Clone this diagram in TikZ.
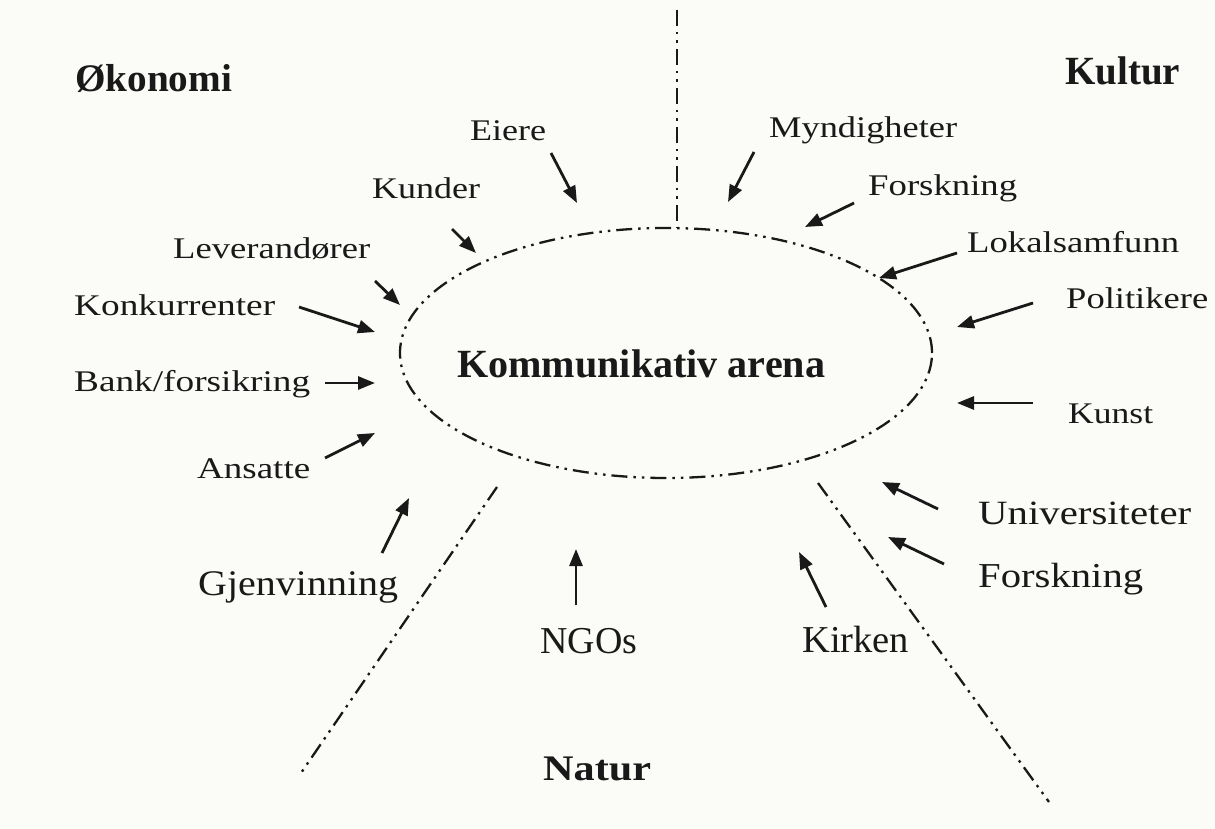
\documentclass[tikz,border=0pt]{standalone}
\usepackage{fontspec}
\setmainfont{Liberation Serif}
\usetikzlibrary{arrows.meta,shapes.geometric}
\definecolor{paper}{RGB}{251,251,247}
\definecolor{ink}{RGB}{25,25,25}
\newcommand\lbl[3]{\resizebox{#2pt}{\height}{\fontsize{#1pt}{#1pt}\selectfont #3}}
\newcommand\blbl[3]{\resizebox{#2pt}{\height}{\fontsize{#1pt}{#1pt}\selectfont\bfseries #3}}
\tikzset{
  lab/.style={anchor=base west, inner sep=0pt, text=ink},
  arr/.style={draw=ink, line width=2.8pt, -{Triangle[length=17pt,width=13pt]}},
  ddot/.style={draw=ink, line width=2.3pt, dash pattern=on 16pt off 6pt on 2.5pt off 6pt on 2.5pt off 6pt},
}
\begin{document}
\begin{tikzpicture}[x=1pt,y=-1pt]
\fill[paper] (0,0) rectangle (1215,829);
\useasboundingbox (0,0) rectangle (1215,829);

% arena
\node[ellipse, ddot, minimum width=532pt, minimum height=250pt, inner sep=0pt] (arena) at (666,353) {};
\node[lab] (arenatxt) at (457,377) {\blbl{40}{368}{Kommunikativ arena}};

% sector lines
\coordinate (vtop) at (677,10);
\coordinate (vbot) at (677,228);
\coordinate (ltop) at (497,487);
\coordinate (lbot) at (301,773);
\coordinate (rtop) at (818,483);
\coordinate (rbot) at (1049,802);
\draw[ddot] (vtop) -- (vbot);
\draw[ddot] (ltop) -- (lbot);
\draw[ddot] (rtop) -- (rbot);

% sector titles
\node[lab] (okonomi) at (75,92) {\blbl{39}{157}{Økonomi}};
\node[lab] (kultur) at (1065,85) {\blbl{40}{115}{Kultur}};
\node[lab] (natur) at (543,780) {\blbl{36}{108}{Natur}};

% labels
\node[lab] (eiere) at (470,141) {\lbl{30}{76}{Eiere}};
\node[lab] (kunder) at (372,198) {\lbl{30}{108}{Kunder}};
\node[lab] (lev) at (173,258) {\lbl{30}{197}{Leverandører}};
\node[lab] (konk) at (74,315) {\lbl{30}{201}{Konkurrenter}};
\node[lab] (bank) at (74,391) {\lbl{30}{236}{Bank/forsikring}};
\node[lab] (ansatte) at (197,478) {\lbl{30}{113}{Ansatte}};
\node[lab] (gjen) at (198,595) {\lbl{36}{200}{Gjenvinning}};
\node[lab] (ngos) at (540,653) {\lbl{38}{97}{NGOs}};
\node[lab] (kirken) at (802,652) {\lbl{38}{107}{Kirken}};
\node[lab] (mynd) at (769,138) {\lbl{30}{188}{Myndigheter}};
\node[lab] (forsk1) at (868,195) {\lbl{30}{149}{Forskning}};
\node[lab] (lokal) at (967,252) {\lbl{30}{212}{Lokalsamfunn}};
\node[lab] (polit) at (1066,308) {\lbl{30}{142}{Politikere}};
\node[lab] (kunst) at (1068,423) {\lbl{30}{85}{Kunst}};
\node[lab] (univ) at (978,524) {\lbl{34}{213}{Universiteter}};
\node[lab] (forsk2) at (978,587) {\lbl{35}{165}{Forskning}};

% arrow ends
\coordinate (a1s) at (551,153);  \coordinate (a1t) at (577,203);
\coordinate (a2s) at (452,229);  \coordinate (a2t) at (476,253);
\coordinate (a3s) at (375,281);  \coordinate (a3t) at (400,305);
\coordinate (a4s) at (299,307);  \coordinate (a4t) at (375,332);
\coordinate (a5s) at (325,383);  \coordinate (a5t) at (375,383);
\coordinate (a6s) at (325,458);  \coordinate (a6t) at (375,433);
\coordinate (a7s) at (382,553);  \coordinate (a7t) at (409,498);
\coordinate (a8s) at (576,605);  \coordinate (a8t) at (576,549);
\coordinate (a9s) at (826,607);  \coordinate (a9t) at (799,552);
\coordinate (a10s) at (754,152); \coordinate (a10t) at (728,202);
\coordinate (a11s) at (854,203); \coordinate (a11t) at (805,227);
\coordinate (a12s) at (957,253); \coordinate (a12t) at (879,278);
\coordinate (a13s) at (1033,303); \coordinate (a13t) at (957,327);
\coordinate (a14s) at (1033,403); \coordinate (a14t) at (957,403);
\coordinate (a15s) at (938,509); \coordinate (a15t) at (882,482);
\coordinate (a16s) at (944,564); \coordinate (a16t) at (888,537);

\foreach \i in {1,...,16}{\draw[arr] (a\i s) -- (a\i t);}
\end{tikzpicture}
\end{document}
